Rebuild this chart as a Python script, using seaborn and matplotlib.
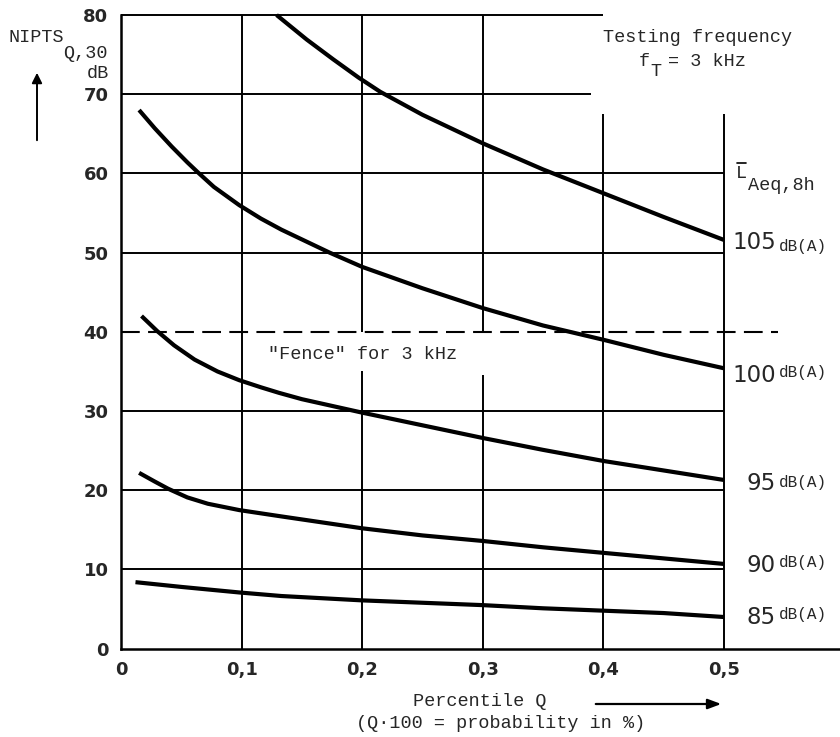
import matplotlib
matplotlib.use("Agg")
import matplotlib.pyplot as plt
from matplotlib.lines import Line2D
from matplotlib.patches import FancyArrowPatch
import pandas as pd
import seaborn as sns

# ---------------- data ----------------
q_105 = [0.129, 0.154, 0.176, 0.197, 0.215, 0.25, 0.3, 0.35, 0.4, 0.45, 0.5]
v_105 = [80.0, 76.9, 74.4, 72.1, 70.3, 67.4, 63.8, 60.5, 57.5, 54.5, 51.6]

q_100 = [0.015, 0.028, 0.042, 0.055, 0.064, 0.077, 0.098, 0.116, 0.133, 0.173,
         0.2, 0.25, 0.3, 0.35, 0.4, 0.45, 0.5]
v_100 = [68.0, 65.7, 63.4, 61.4, 60.1, 58.3, 56.0, 54.3, 52.9, 50.0,
         48.2, 45.5, 43.0, 40.8, 39.0, 37.1, 35.4]

q_95 = [0.017, 0.030, 0.044, 0.061, 0.080, 0.098, 0.116, 0.131, 0.15, 0.2,
        0.25, 0.3, 0.35, 0.4, 0.45, 0.5]
v_95 = [42.0, 40.1, 38.3, 36.5, 35.0, 33.9, 33.0, 32.3, 31.5, 29.8,
        28.2, 26.6, 25.1, 23.7, 22.5, 21.3]

q_90 = [0.015, 0.028, 0.039, 0.055, 0.072, 0.098, 0.133, 0.2, 0.25, 0.3,
        0.35, 0.4, 0.45, 0.5]
v_90 = [22.2, 21.1, 20.2, 19.1, 18.3, 17.5, 16.7, 15.2, 14.3, 13.6,
        12.8, 12.1, 11.4, 10.7]

q_85 = [0.012, 0.05, 0.098, 0.133, 0.2, 0.25, 0.3, 0.35, 0.4, 0.45, 0.5]
v_85 = [8.4, 7.8, 7.1, 6.65, 6.1, 5.8, 5.5, 5.1, 4.8, 4.5, 4.0]

levels = ["105", "100", "95", "90", "85"]
fence_level = 40
x_ticks = [0, 0.1, 0.2, 0.3, 0.4, 0.5]
x_tick_labels = ["0", "0,1", "0,2", "0,3", "0,4", "0,5"]
y_ticks = [0, 10, 20, 30, 40, 50, 60, 70, 80]

# grid segments (value, start, end)
h_grid = [(80, 0, 0.4), (70, 0, 0.39), (60, 0, 0.5), (50, 0, 0.5),
          (30, 0, 0.5), (20, 0, 0.5), (10, 0, 0.5)]
v_grid = [(0.1, 0, 80), (0.2, 40, 80), (0.2, 0, 35), (0.3, 40, 80),
          (0.3, 0, 34.5), (0.4, 0, 67.5), (0.5, 0, 67.5)]

# ---------------- figure ----------------
sns.set_style("white")
plt.rcParams["font.family"] = ["DejaVu Sans"]
W, H = 840, 737
fig = plt.figure(figsize=(W / 100, H / 100), dpi=100)

def P(px, py):
    return px / W, 1 - py / H

x0p, y0p, y80p = 121, 648.7, 15
ax = fig.add_axes([x0p / W, (H - y0p) / H, (W - x0p) / W, (y0p - y80p) / H])
xmax = (W - x0p) / 1206.0
ax.set_xlim(0, xmax)
ax.set_ylim(0, 80)

lw_grid = 1.4
for y, xa, xb in h_grid:
    ax.plot([xa, xb], [y, y], color="black", lw=lw_grid, solid_capstyle="butt", clip_on=False)
for x, ya, yb in v_grid:
    ax.plot([x, x], [ya, yb], color="black", lw=lw_grid, solid_capstyle="butt", clip_on=False)
ax.plot([0, 0.545], [fence_level, fence_level], color="black", lw=1.5,
        dashes=(9, 4), clip_on=False)

rows = []
for lab, qs, vs in zip(levels, [q_105, q_100, q_95, q_90, q_85],
                       [v_105, v_100, v_95, v_90, v_85]):
    for q, v in zip(qs, vs):
        rows.append({"Q": q, "NIPTS": v, "level": lab})
df = pd.DataFrame(rows)
sns.lineplot(data=df, x="Q", y="NIPTS", hue="level", units="level",
             estimator=None, sort=False, palette=["black"] * 5, linewidth=3.0,
             legend=False, ax=ax)
for l in ax.lines[-5:]:
    l.set_solid_capstyle("butt")
    l.set_solid_joinstyle("round")
    l.set_clip_on(False)

for s in ["top", "right"]:
    ax.spines[s].set_visible(False)
for s in ["left", "bottom"]:
    ax.spines[s].set_linewidth(1.8)
    ax.spines[s].set_color("black")

ax.set_xticks(x_ticks)
ax.set_xticklabels(x_tick_labels)
ax.set_xticks([0.05, 0.15, 0.25, 0.35, 0.45], minor=True)
ax.set_yticks(y_ticks)
ax.tick_params(axis="both", which="major", direction="out", length=5, width=1.4,
               labelsize=13, pad=4, color="black")
ax.tick_params(axis="x", which="minor", direction="out", length=4, width=1.2)
for t in ax.get_xticklabels() + ax.get_yticklabels():
    t.set_fontweight("bold")
ax.set_xlabel("")
ax.set_ylabel("")

mono = "Liberation Mono"
ms = 13.3
# y-axis label
fig.text(*P(8, 38), "NIPTS", family=mono, fontsize=ms, va="center", ha="left")
fig.text(*P(63, 53), "Q,30", family=mono, fontsize=ms, va="center", ha="left")
fig.text(*P(87, 73), "dB", family=mono, fontsize=ms, va="center", ha="left")
fig.add_artist(FancyArrowPatch(P(37, 143), P(37, 70),
               transform=fig.transFigure, arrowstyle="-|>,head_length=6,head_width=3",
               color="black", lw=1.4, mutation_scale=1))

# testing frequency
fig.text(*P(698, 38), "Testing frequency", family=mono, fontsize=ms, va="center", ha="center")
fig.text(*P(639, 62), "f", family=mono, fontsize=ms, va="center", ha="left")
fig.text(*P(650, 72), "T", family=mono, fontsize=ms, va="center", ha="left")
fig.text(*P(668, 62), "= 3 kHz", family=mono, fontsize=ms, va="center", ha="left")

# L Aeq
fig.text(*P(736, 173), "L", family=mono, fontsize=ms, va="center", ha="left")
fig.add_artist(Line2D([737 / W, 746 / W], [1 - 163 / H, 1 - 163 / H],
                      transform=fig.transFigure, color="black", lw=1.2))
fig.text(*P(748, 186), "Aeq,8h", family=mono, fontsize=ms, va="center", ha="left")

# curve labels
lab_y = [242, 375, 484, 566, 617]
db_y = [247, 372, 482, 562, 615]
for lab, yn, yd in zip(levels, lab_y, db_y):
    fig.text(*P(776, yn), lab, family="DejaVu Sans", fontsize=16.5, va="center", ha="right")
    fig.text(*P(779, yd), "dB(A)", family=mono, fontsize=11.5, va="center", ha="left")

# fence text
fig.text(*P(363, 355), "\"Fence\" for 3 kHz", family=mono, fontsize=ms, va="center", ha="center")

# x label
fig.text(*P(480, 701), "Percentile Q", family=mono, fontsize=ms, va="center", ha="center")
fig.text(*P(501, 723), "(Q\u00b7100 = probability in %)", family=mono, fontsize=ms,
         va="center", ha="center")
fig.add_artist(FancyArrowPatch(P(593, 704), P(724, 704),
               transform=fig.transFigure, arrowstyle="-|>,head_length=8,head_width=3",
               color="black", lw=1.6, mutation_scale=1))

fig.savefig("out.png", dpi=100)
